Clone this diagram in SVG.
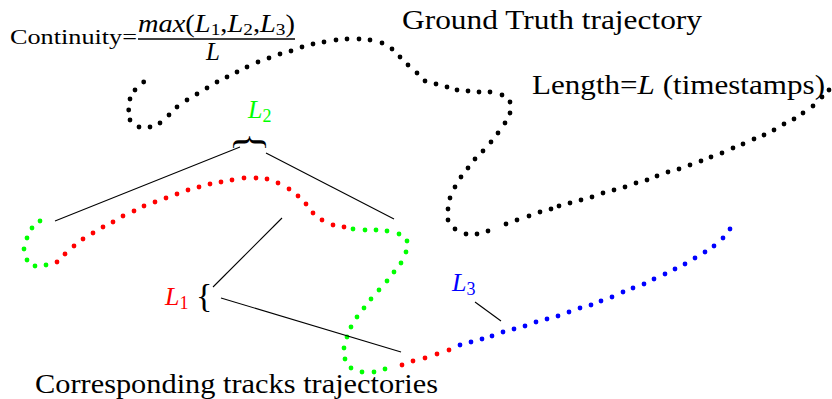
<svg xmlns="http://www.w3.org/2000/svg" width="832" height="399" viewBox="0 0 832 399">
<style>
  text { font-family: "Liberation Serif", "DejaVu Serif", serif; fill: #000; }
  .big { font-size: 28px; }
  .it { font-style: italic; }
  .k circle { fill: #000; }
  .r { fill: #ff0000; }
  .g { fill: #00ff00; }
  .b { fill: #0000ff; }
  .ln { stroke: #000; stroke-width: 1.1; fill: none; }
</style>
<rect width="832" height="399" fill="#fff"/>

<g id="formula">
  <text x="10" y="44" font-size="22" textLength="127" lengthAdjust="spacingAndGlyphs">Continuity=</text>
  <text x="138" y="32" font-size="25" textLength="157" lengthAdjust="spacingAndGlyphs"><tspan class="it">max</tspan>(<tspan class="it">L</tspan><tspan font-size="17" dy="3">1</tspan><tspan dy="-3">,</tspan><tspan class="it">L</tspan><tspan font-size="17" dy="3">2</tspan><tspan dy="-3">,</tspan><tspan class="it">L</tspan><tspan font-size="17" dy="3">3</tspan><tspan dy="-3">)</tspan></text>
  <line x1="138" y1="39" x2="295" y2="39" stroke="#000" stroke-width="1.3"/>
  <text x="206" y="60" font-size="25" class="it">L</text>
</g>

<g id="gt-label">
  <text x="402" y="29" class="big" textLength="300" lengthAdjust="spacingAndGlyphs">Ground Truth trajectory</text>
  <text x="532" y="94" class="big" textLength="293" lengthAdjust="spacingAndGlyphs">Length=<tspan class="it">L</tspan> (timestamps)</text>
</g>

<g id="tracks-label">
  <text x="35" y="393" class="big" textLength="403" lengthAdjust="spacingAndGlyphs">Corresponding tracks trajectories</text>
</g>

<g id="ground-truth" class="k">
<circle cx="143.7" cy="82" r="2.4"/><circle cx="135" cy="90" r="2.4"/><circle cx="130" cy="99" r="2.4"/><circle cx="128.7" cy="110" r="2.4"/><circle cx="130" cy="120" r="2.4"/><circle cx="139" cy="127" r="2.4"/><circle cx="150" cy="127" r="2.4"/><circle cx="160" cy="123" r="2.4"/><circle cx="169" cy="115" r="2.4"/><circle cx="177" cy="107" r="2.4"/><circle cx="187" cy="100" r="2.4"/><circle cx="197" cy="94" r="2.4"/><circle cx="207" cy="88" r="2.4"/><circle cx="217" cy="82" r="2.4"/><circle cx="227" cy="77" r="2.4"/><circle cx="237" cy="72" r="2.4"/><circle cx="247" cy="67" r="2.4"/><circle cx="258" cy="62" r="2.4"/><circle cx="269" cy="58" r="2.4"/><circle cx="280" cy="54" r="2.4"/><circle cx="291" cy="51" r="2.4"/><circle cx="302" cy="47" r="2.4"/><circle cx="313" cy="44" r="2.4"/><circle cx="324" cy="42" r="2.4"/><circle cx="336" cy="40" r="2.4"/><circle cx="347" cy="39" r="2.4"/><circle cx="359" cy="39" r="2.4"/><circle cx="370" cy="40" r="2.4"/><circle cx="382" cy="43" r="2.4"/><circle cx="392" cy="49" r="2.4"/><circle cx="400" cy="57" r="2.4"/><circle cx="408" cy="65" r="2.4"/><circle cx="417" cy="73" r="2.4"/><circle cx="425" cy="81" r="2.4"/><circle cx="436" cy="84" r="2.4"/><circle cx="447" cy="87" r="2.4"/><circle cx="457" cy="90" r="2.4"/><circle cx="468" cy="91" r="2.4"/><circle cx="479" cy="92" r="2.4"/><circle cx="490" cy="92" r="2.4"/><circle cx="502" cy="95" r="2.4"/><circle cx="510" cy="102" r="2.4"/><circle cx="510" cy="113" r="2.4"/><circle cx="505" cy="123" r="2.4"/><circle cx="498" cy="133" r="2.4"/><circle cx="491" cy="142" r="2.4"/><circle cx="483" cy="151" r="2.4"/><circle cx="475" cy="159" r="2.4"/><circle cx="468" cy="168" r="2.4"/><circle cx="461" cy="177" r="2.4"/><circle cx="455" cy="187" r="2.4"/><circle cx="450" cy="198" r="2.4"/><circle cx="448" cy="209" r="2.4"/><circle cx="448" cy="220" r="2.4"/><circle cx="455" cy="229" r="2.4"/><circle cx="466" cy="234" r="2.4"/><circle cx="477" cy="234" r="2.4"/><circle cx="488" cy="231" r="2.4"/><circle cx="506" cy="224" r="2.4"/><circle cx="517" cy="220" r="2.4"/><circle cx="529" cy="216" r="2.4"/><circle cx="540" cy="212" r="2.4"/><circle cx="551" cy="209" r="2.4"/><circle cx="559" cy="206" r="2.4"/><circle cx="570" cy="203" r="2.4"/><circle cx="581" cy="200" r="2.4"/><circle cx="592" cy="197" r="2.4"/><circle cx="603" cy="193" r="2.4"/><circle cx="614" cy="190" r="2.4"/><circle cx="625" cy="187" r="2.4"/><circle cx="636" cy="183" r="2.4"/><circle cx="647" cy="180" r="2.4"/><circle cx="657" cy="176" r="2.4"/><circle cx="668" cy="172" r="2.4"/><circle cx="679" cy="169" r="2.4"/><circle cx="690" cy="165" r="2.4"/><circle cx="701" cy="161" r="2.4"/><circle cx="711" cy="157" r="2.4"/><circle cx="722" cy="153" r="2.4"/><circle cx="733" cy="148" r="2.4"/><circle cx="743" cy="144" r="2.4"/><circle cx="754" cy="139" r="2.4"/><circle cx="764" cy="135" r="2.4"/><circle cx="774" cy="130" r="2.4"/><circle cx="784" cy="124" r="2.4"/><circle cx="794" cy="119" r="2.4"/><circle cx="803" cy="113" r="2.4"/><circle cx="813" cy="106" r="2.4"/><circle cx="822" cy="97" r="2.4"/><circle cx="829" cy="90" r="2.4"/>
</g>

<g id="tracks">
<g class="g"><circle cx="40" cy="221" r="2.4"/><circle cx="32" cy="228" r="2.4"/><circle cx="27" cy="238" r="2.4"/><circle cx="24" cy="249" r="2.4"/><circle cx="27" cy="260" r="2.4"/><circle cx="35" cy="266" r="2.4"/><circle cx="46" cy="265" r="2.4"/></g>
<g class="r"><circle cx="57" cy="262" r="2.4"/><circle cx="65" cy="254" r="2.4"/><circle cx="74" cy="246" r="2.4"/><circle cx="83" cy="239" r="2.4"/><circle cx="93" cy="233" r="2.4"/><circle cx="103" cy="227" r="2.4"/><circle cx="113" cy="222" r="2.4"/><circle cx="123" cy="216" r="2.4"/><circle cx="134" cy="211" r="2.4"/><circle cx="144" cy="206" r="2.4"/><circle cx="155" cy="202" r="2.4"/><circle cx="166" cy="198" r="2.4"/><circle cx="177" cy="194" r="2.4"/><circle cx="188" cy="190" r="2.4"/><circle cx="199" cy="187" r="2.4"/><circle cx="210" cy="184" r="2.4"/><circle cx="221" cy="182" r="2.4"/><circle cx="232" cy="180" r="2.4"/><circle cx="244" cy="178" r="2.4"/><circle cx="256" cy="178" r="2.4"/><circle cx="267" cy="179" r="2.4"/><circle cx="278" cy="183" r="2.4"/><circle cx="289" cy="189" r="2.4"/><circle cx="298" cy="196" r="2.4"/><circle cx="306" cy="204" r="2.4"/><circle cx="313" cy="213" r="2.4"/><circle cx="322" cy="220" r="2.4"/><circle cx="333" cy="225" r="2.4"/><circle cx="344" cy="227" r="2.4"/></g>
<g class="g"><circle cx="353" cy="229" r="2.4"/><circle cx="365" cy="230" r="2.4"/><circle cx="376" cy="230" r="2.4"/><circle cx="387" cy="231" r="2.4"/><circle cx="399" cy="234" r="2.4"/><circle cx="407" cy="241" r="2.4"/><circle cx="406" cy="252" r="2.4"/><circle cx="401" cy="263" r="2.4"/><circle cx="394" cy="272" r="2.4"/><circle cx="387" cy="281" r="2.4"/><circle cx="379" cy="290" r="2.4"/><circle cx="371" cy="299" r="2.4"/><circle cx="364" cy="308" r="2.4"/><circle cx="357" cy="317" r="2.4"/><circle cx="351" cy="327" r="2.4"/><circle cx="347" cy="337" r="2.4"/><circle cx="344" cy="348" r="2.4"/><circle cx="345" cy="359" r="2.4"/><circle cx="351" cy="368" r="2.4"/><circle cx="362" cy="372" r="2.4"/><circle cx="374" cy="372" r="2.4"/><circle cx="385" cy="369" r="2.4"/></g>
<g class="r"><circle cx="402" cy="365" r="2.4"/><circle cx="413" cy="361" r="2.4"/><circle cx="425" cy="358" r="2.4"/><circle cx="437" cy="354" r="2.4"/><circle cx="449" cy="350" r="2.4"/></g>
<g class="b"><circle cx="460" cy="345" r="2.4"/><circle cx="471" cy="342" r="2.4"/><circle cx="482" cy="339" r="2.4"/><circle cx="492" cy="336" r="2.4"/><circle cx="503" cy="332" r="2.4"/><circle cx="514" cy="329" r="2.4"/><circle cx="525" cy="326" r="2.4"/><circle cx="536" cy="322" r="2.4"/><circle cx="547" cy="319" r="2.4"/><circle cx="558" cy="316" r="2.4"/><circle cx="569" cy="312" r="2.4"/><circle cx="580" cy="308" r="2.4"/><circle cx="591" cy="305" r="2.4"/><circle cx="601" cy="301" r="2.4"/><circle cx="612" cy="297" r="2.4"/><circle cx="623" cy="292" r="2.4"/><circle cx="633" cy="288" r="2.4"/><circle cx="644" cy="284" r="2.4"/><circle cx="654" cy="279" r="2.4"/><circle cx="665" cy="274" r="2.4"/><circle cx="675" cy="269" r="2.4"/><circle cx="685" cy="264" r="2.4"/><circle cx="695" cy="258" r="2.4"/><circle cx="705" cy="252" r="2.4"/><circle cx="714" cy="246" r="2.4"/><circle cx="723" cy="238" r="2.4"/><circle cx="730" cy="229" r="2.4"/></g>
</g>

<g id="label-L2">
  <text x="248" y="118" font-size="26" style="fill:#00ff00"><tspan class="it">L</tspan><tspan font-size="18" dy="4">2</tspan></text>
  <text transform="translate(251.5,142) rotate(90)" font-size="40" text-anchor="middle" dominant-baseline="central">{</text>
</g>

<g id="label-L1">
  <text x="165" y="305" font-size="26" style="fill:#ff0000"><tspan class="it">L</tspan><tspan font-size="18" dy="4">1</tspan></text>
  <text x="196" y="307" font-size="34">{</text>
</g>

<g id="label-L3">
  <text x="452" y="291" font-size="26" style="fill:#0000ff"><tspan class="it">L</tspan><tspan font-size="18" dy="4">3</tspan></text>
</g>

<g id="connectors" class="ln">
  <line x1="240" y1="147" x2="55" y2="221"/>
  <line x1="266" y1="153" x2="394" y2="219"/>
  <line x1="282" y1="218" x2="213" y2="287"/>
  <line x1="221" y1="298" x2="401" y2="352"/>
  <line x1="475" y1="302" x2="501" y2="321"/>
</g>
</svg>
